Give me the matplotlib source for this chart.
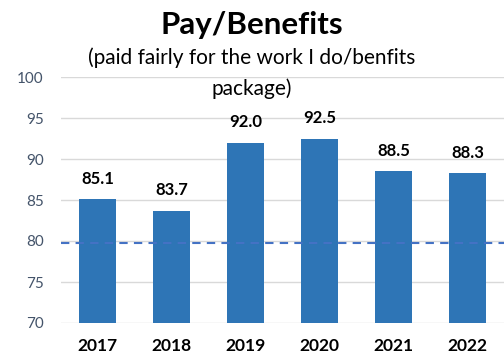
import matplotlib.pyplot as plt

years = ['2017', '2018', '2019', '2020', '2021', '2022']
scores = [85.1, 83.7, 92.0, 92.5, 88.5, 88.3]
benchmark = 79.8
y_ticks = [70, 75, 80, 85, 90, 95, 100]

plt.rcParams['font.family'] = ['Lato', 'DejaVu Sans']

fig = plt.figure(figsize=(5.04, 3.59), dpi=100)
ax = fig.add_axes([60.5 / 504, 36 / 359, 444 / 504, 246 / 359])

x = range(len(years))
bars = ax.bar(x, scores, width=0.5, color='#2E75B6', zorder=3)

# value labels above each bar
for xi, val in zip(x, scores):
    ax.text(xi, val + 1.5, f'{val:.1f}', ha='center', va='bottom',
            fontsize=12, fontweight='bold', color='black')

# benchmark line
ax.axhline(benchmark, color='#4472C4', linestyle=(0, (4, 3)), linewidth=1.5, zorder=4)

ax.set_xlim(-0.5, 5.5)
ax.set_ylim(70, 100)
ax.set_yticks(y_ticks)
ax.set_xticks(list(x))
ax.set_xticklabels(years, fontsize=12.5, fontweight='bold')
ax.tick_params(axis='y', length=0, pad=12, labelsize=11, labelcolor='#44546A')
ax.tick_params(axis='x', length=0, pad=11)
ax.grid(axis='y', color='#D9D9D9', linewidth=1, zorder=0)
for s in ax.spines.values():
    s.set_visible(False)

fig.text(0.5, 0.930, 'Pay/Benefits', ha='center', va='center',
         fontsize=22.5, fontweight='bold')
fig.text(0.5, 0.797, '(paid fairly for the work I do/benfits\npackage)',
         ha='center', va='center', fontsize=15, linespacing=1.63)

fig.savefig('out.png', dpi=100)
